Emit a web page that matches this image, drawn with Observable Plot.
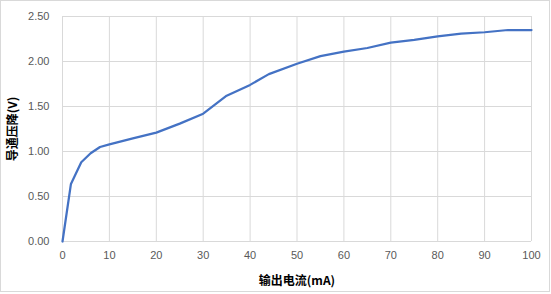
<!DOCTYPE html>
<html>
<head>
<meta charset="utf-8">
<script src="https://cdn.jsdelivr.net/npm/d3@7"></script>
<script src="https://cdn.jsdelivr.net/npm/@observablehq/plot@0.6"></script>
<style>
  html, body { margin: 0; padding: 0; background: #fff; }
</style>
</head>
<body>
<div id="chart"></div>
<script>
const current = [0, 1.8, 4, 6, 8, 10, 15, 20, 25, 30, 35, 40, 44, 50, 55, 60, 65, 70, 75, 80, 85, 90, 95, 100];
const voltage = [0, 0.64, 0.88, 0.98, 1.05, 1.08, 1.145, 1.21, 1.31, 1.42, 1.62, 1.74, 1.86, 1.975, 2.06, 2.11, 2.15, 2.21, 2.24, 2.28, 2.31, 2.325, 2.35, 2.35];
const xTicks = [0, 10, 20, 30, 40, 50, 60, 70, 80, 90, 100];
const yTicks = [0, 0.5, 1.0, 1.5, 2.0, 2.5];
const xTitle = "输出电流(mA)";
const yTitle = "导通压降(V)";

const data = current.map((c, i) => ({current: c, voltage: voltage[i]}));

const chart = Plot.plot({
  width: 551,
  height: 294,
  marginLeft: 62,
  marginRight: 20,
  marginTop: 16,
  marginBottom: 53,
  style: {fontFamily: "'Liberation Sans', 'Noto Sans CJK SC', sans-serif", fontSize: "11px", background: "#fff"},
  x: {domain: [0, 100]},
  y: {domain: [0, 2.5]},
  marks: [
    Plot.gridX(xTicks, {stroke: "#d9d9d9", strokeOpacity: 1}),
    Plot.gridY(yTicks, {stroke: "#d9d9d9", strokeOpacity: 1}),
    Plot.axisX(xTicks, {tickSize: 0, tickPadding: 10, fill: "#595959", label: null, fontSize: 11}),
    Plot.axisY(yTicks, {tickSize: 0, tickPadding: 13, fill: "#595959", label: null, tickFormat: d3.format(".2f"), fontSize: 11}),
    Plot.line(data, {x: "current", y: "voltage", stroke: "#4472c4", strokeWidth: 2.25, strokeLinejoin: "round"}),
    Plot.text([xTitle], {text: d => d, frameAnchor: "bottom", textAnchor: "middle", lineAnchor: "middle", dy: 40, fontWeight: "bold", fontSize: 12, fill: "#000", fontFamily: "'Noto Sans CJK SC', sans-serif"}),
    Plot.text([yTitle], {text: d => d, frameAnchor: "left", textAnchor: "middle", lineAnchor: "middle", dx: -49, rotate: -90, fontWeight: "bold", fontSize: 12, fill: "#000", fontFamily: "'Noto Sans CJK SC', sans-serif"})
  ]
});

d3.select(chart).append("rect")
  .attr("x", 0.5).attr("y", 0.5)
  .attr("width", 549).attr("height", 291)
  .attr("fill", "none").attr("stroke", "#d9d9d9");

document.getElementById("chart").appendChild(chart);
</script>
</body>
</html>
